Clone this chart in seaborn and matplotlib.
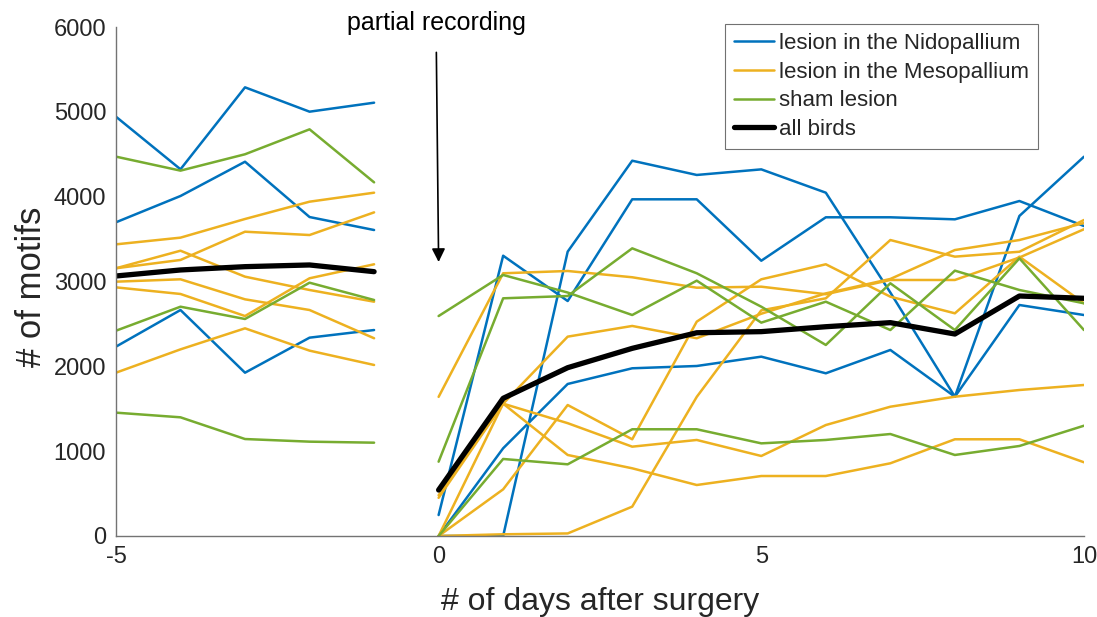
import pandas as pd
import seaborn as sns
import matplotlib.pyplot as plt
from matplotlib.lines import Line2D

days_pre = [-5, -4, -3, -2, -1]
days_post = [0, 1, 2, 3, 4, 5, 6, 7, 8, 9, 10]

# values, one list per bird
nido_pre = [
    [4943, 4323, 5289, 5002, 5108],
    [3698, 4008, 4412, 3760, 3607],
    [2232, 2664, 1925, 2338, 2428],
]
meso_pre = [
    [3438, 3517, 3737, 3941, 4047],
    [3156, 3254, 3587, 3548, 3815],
    [3156, 3363, 3057, 2900, 2762],
    [2998, 3026, 2790, 2664, 2331],
    [2931, 2853, 2593, 3038, 3203],
    [1925, 2200, 2448, 2185, 2016],
]
sham_pre = [
    [4472, 4307, 4500, 4794, 4169],
    [2420, 2703, 2558, 2986, 2782],
    [1454, 1399, 1143, 1112, 1100],
]
all_pre = [3065, 3136, 3175, 3195, 3116]

nido_post = [
    [0, 0, 3352, 4424, 4256, 4322, 4047, 2870, 1642, 3773, 4471],
    [247, 3304, 2770, 3969, 3969, 3245, 3757, 3757, 3733, 3949, 3654],
    [0, 1034, 1792, 1977, 2004, 2114, 1918, 2193, 1642, 2723, 2605],
]
meso_post = [
    [1640, 3097, 3124, 3050, 2927, 2939, 2850, 3018, 3018, 3283, 3616],
    [480, 1560, 2350, 2476, 2331, 2620, 2860, 3030, 3371, 3489, 3690],
    [450, 1560, 955, 798, 601, 707, 707, 857, 1140, 1140, 869],
    [0, 1560, 1330, 1053, 1132, 943, 1308, 1524, 1642, 1721, 1780],
    [0, 20, 30, 346, 1640, 2660, 2802, 3489, 3293, 3351, 3725],
    [0, 550, 1544, 1140, 2527, 3026, 3203, 2821, 2625, 3293, 2743],
]
sham_post = [
    [2593, 3077, 2870, 2605, 3010, 2515, 2762, 2428, 3128, 2900, 2743],
    [876, 2802, 2829, 3391, 3097, 2703, 2252, 2979, 2428, 3273, 2428],
    [0, 908, 845, 1258, 1258, 1092, 1132, 1202, 955, 1061, 1300],
]
all_post = [542, 1623, 1984, 2212, 2396, 2409, 2467, 2515, 2381, 2829, 2802]

groups = ['lesion in the Nidopallium', 'lesion in the Mesopallium', 'sham lesion']
colors = ['#0072BD', '#EDB120', '#77AC30']

rows = []
for g, pre, post in zip(groups, [nido_pre, meso_pre, sham_pre],
                        [nido_post, meso_post, sham_post]):
    for i, vals in enumerate(pre):
        for d, v in zip(days_pre, vals):
            rows.append((g, f'{g} pre {i}', d, v))
    for i, vals in enumerate(post):
        for d, v in zip(days_post, vals):
            rows.append((g, f'{g} post {i}', d, v))
df = pd.DataFrame(rows, columns=['group', 'trace', 'day', 'motifs'])

mean_rows = [('pre', d, v) for d, v in zip(days_pre, all_pre)]
mean_rows += [('post', d, v) for d, v in zip(days_post, all_post)]
df_all = pd.DataFrame(mean_rows, columns=['trace', 'day', 'motifs'])

sns.set_style('white')
plt.rcParams['font.family'] = ['Liberation Sans', 'DejaVu Sans']
plt.rcParams['axes.unicode_minus'] = False

fig = plt.figure(figsize=(10.97, 6.17), dpi=100)
ax = fig.add_axes([0.1057, 0.1313, 0.8824, 0.8249])

sns.lineplot(data=df, x='day', y='motifs', hue='group', units='trace',
             estimator=None, palette=dict(zip(groups, colors)), lw=1.8,
             legend=False, ax=ax)
sns.lineplot(data=df_all, x='day', y='motifs', units='trace', estimator=None,
             color='black', lw=3.8, legend=False, ax=ax)

ax.set_xlim(-5, 10)
ax.set_ylim(0, 6000)
ax.set_xticks([-5, 0, 5, 10])
ax.set_yticks(range(0, 6001, 1000))
ax.set_xlabel('# of days after surgery', fontsize=23, color='#262626')
ax.set_ylabel('# of motifs', fontsize=25, color='#262626')
ax.xaxis.set_label_coords(0.5, -0.1)
ax.yaxis.set_label_coords(-0.07, 0.49)
ax.tick_params(direction='in', length=5, width=1, color='0.45',
               labelsize=17, labelcolor='#262626', pad=7)
for s in ['top', 'right']:
    ax.spines[s].set_visible(False)
for s in ['left', 'bottom']:
    ax.spines[s].set_color('0.45')
    ax.spines[s].set_linewidth(1)

ax.annotate('partial recording', xy=(0, 3230), xytext=(-0.04, 6045),
            fontsize=18, ha='center', va='center', color='black',
            annotation_clip=False,
            arrowprops=dict(arrowstyle='-|>', color='black', lw=1.2,
                            mutation_scale=20, shrinkA=10, shrinkB=0))

handles = [Line2D([0], [0], color=c, lw=1.8) for c in colors]
handles.append(Line2D([0], [0], color='black', lw=3.8))
leg = ax.legend(handles, groups + ['all birds'], loc='upper right',
                bbox_to_anchor=(0.9525, 1.006), fontsize=16, frameon=True,
                fancybox=False, edgecolor='0.3', handlelength=1.8,
                handletextpad=0.25, borderpad=0.4, labelspacing=0.35,
                borderaxespad=0)
leg.get_frame().set_linewidth(0.8)

fig.savefig('out.png', dpi=100)
